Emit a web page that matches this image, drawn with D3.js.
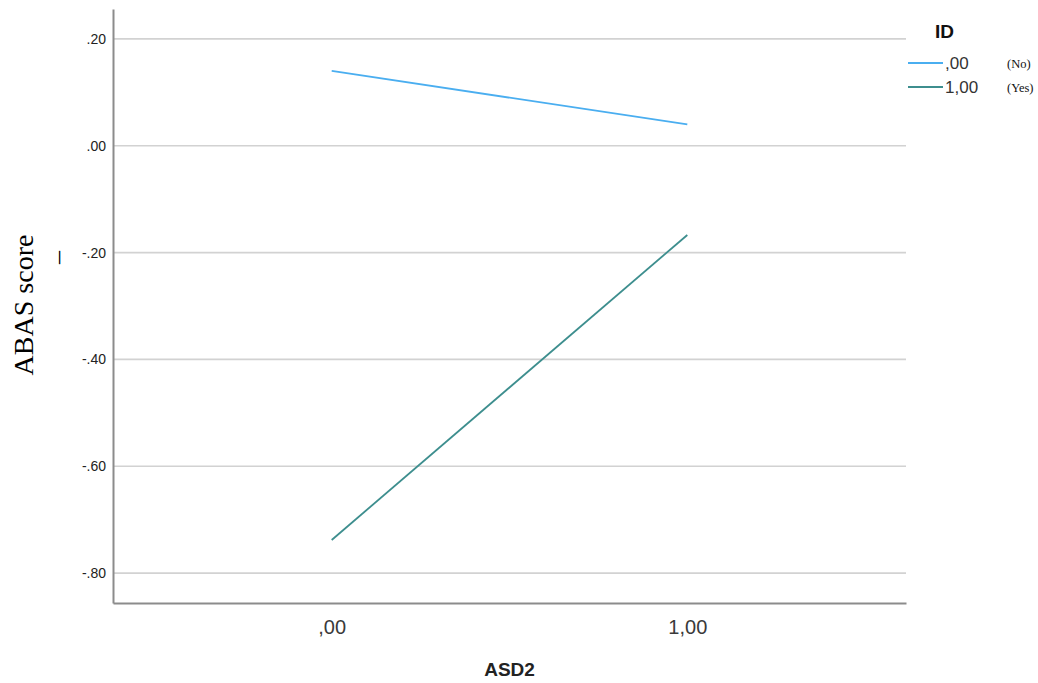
<!DOCTYPE html>
<html>
<head>
<meta charset="utf-8"/>
<title>ABAS score by ASD2 and ID</title>
<script src="https://cdnjs.cloudflare.com/ajax/libs/d3/7.8.5/d3.min.js"></script>
<style>
  body { margin: 0; background: #fff; }
  text { font-family: Arial, "Liberation Sans", sans-serif; }
</style>
</head>
<body>
<div id="chart"></div>
<script>
// data
var asdCats = [",00", "1,00"];
var idNames = [",00", "1,00"];
var idNotes = ["(No)", "(Yes)"];
var noValues = [0.140, 0.040];
var yesValues = [-0.738, -0.167];
var yTicks = [0.2, 0, -0.2, -0.4, -0.6, -0.8];
var yTickLabels = [".20", ".00", "-.20", "-.40", "-.60", "-.80"];
var colors = ["#4aaef0", "#3d8e8e"];

var W = 1038, H = 683;
var margin = {top: 9, right: 132, bottom: 80, left: 113};
var width = W - margin.left - margin.right,
    height = H - margin.top - margin.bottom;

var svg = d3.select("#chart").append("svg")
    .attr("width", W)
    .attr("height", H);

var g = svg.append("g")
    .attr("transform", "translate(" + margin.left + "," + margin.top + ")");

var x = d3.scalePoint()
    .domain(asdCats)
    .range([0, width])
    .padding(0.615);

var y = d3.scaleLinear()
    .domain([-0.856, 0.256])
    .range([height, 0]);

// gridlines
g.selectAll(".grid")
    .data(yTicks)
    .enter()
    .append("line")
    .attr("x1", 0)
    .attr("x2", width)
    .attr("y1", function(d) { return y(d); })
    .attr("y2", function(d) { return y(d); })
    .attr("stroke", "#d2d2d2")
    .attr("stroke-width", 1.6);

// y axis
var yAxis = g.append("g")
    .call(d3.axisLeft(y).tickValues(yTicks).tickSize(0).tickPadding(7)
        .tickFormat(function(d, i) { return yTickLabels[i]; }));
yAxis.select(".domain").attr("stroke", "#8c8c8c").attr("stroke-width", 2);
yAxis.selectAll("text")
    .style("font-size", "14px")
    .style("font-family", "Arial, 'Liberation Sans', sans-serif")
    .attr("fill", "#222");

// x axis
var xAxis = g.append("g")
    .attr("transform", "translate(0," + height + ")")
    .call(d3.axisBottom(x).tickSize(0).tickPadding(17));
xAxis.select(".domain").attr("stroke", "#8c8c8c").attr("stroke-width", 2);
xAxis.selectAll("text")
    .style("font-size", "20px")
    .style("font-family", "Arial, 'Liberation Sans', sans-serif")
    .attr("fill", "#3a3a3a");

// lines
var series = [noValues, yesValues];
var line = d3.line()
    .x(function(d, i) { return x(asdCats[i]); })
    .y(function(d) { return y(d); });

g.selectAll(".series")
    .data(series)
    .enter()
    .append("path")
    .attr("d", line)
    .attr("fill", "none")
    .attr("stroke", function(d, i) { return colors[i]; })
    .attr("stroke-width", 1.8);

// axis titles
svg.append("text")
    .attr("x", margin.left + width / 2)
    .attr("y", 676)
    .attr("text-anchor", "middle")
    .style("font-size", "19px")
    .style("font-weight", "bold")
    .attr("fill", "#222")
    .text("ASD2");

svg.append("text")
    .attr("transform", "translate(33,305) rotate(-90)")
    .attr("text-anchor", "middle")
    .style("font-family", "'Liberation Serif', 'Times New Roman', serif")
    .style("font-size", "28px")
    .attr("fill", "#000")
    .text("ABAS score");

svg.append("text")
    .attr("transform", "translate(57,257.5) rotate(-90)")
    .attr("text-anchor", "middle")
    .style("font-family", "'Liberation Serif', 'Times New Roman', serif")
    .style("font-size", "26px")
    .attr("fill", "#000")
    .text("_");

// legend
var legend = svg.append("g");
legend.append("text")
    .attr("x", 935)
    .attr("y", 38)
    .style("font-size", "19px")
    .style("font-weight", "bold")
    .attr("fill", "#111")
    .text("ID");

var items = legend.selectAll(".item")
    .data(idNames)
    .enter()
    .append("g")
    .attr("transform", function(d, i) { return "translate(0," + (63 + i * 24) + ")"; });

items.append("line")
    .attr("x1", 908)
    .attr("x2", 943)
    .attr("stroke", function(d, i) { return colors[i]; })
    .attr("stroke-width", 1.8);

items.append("text")
    .attr("x", 945)
    .attr("y", 6)
    .style("font-size", "17px")
    .attr("fill", "#333")
    .text(function(d) { return d; });

items.append("text")
    .attr("x", 1007)
    .attr("y", 5)
    .style("font-family", "'Liberation Serif', 'Times New Roman', serif")
    .style("font-size", "12.5px")
    .attr("fill", "#111")
    .text(function(d, i) { return idNotes[i]; });
</script>
</body>
</html>
